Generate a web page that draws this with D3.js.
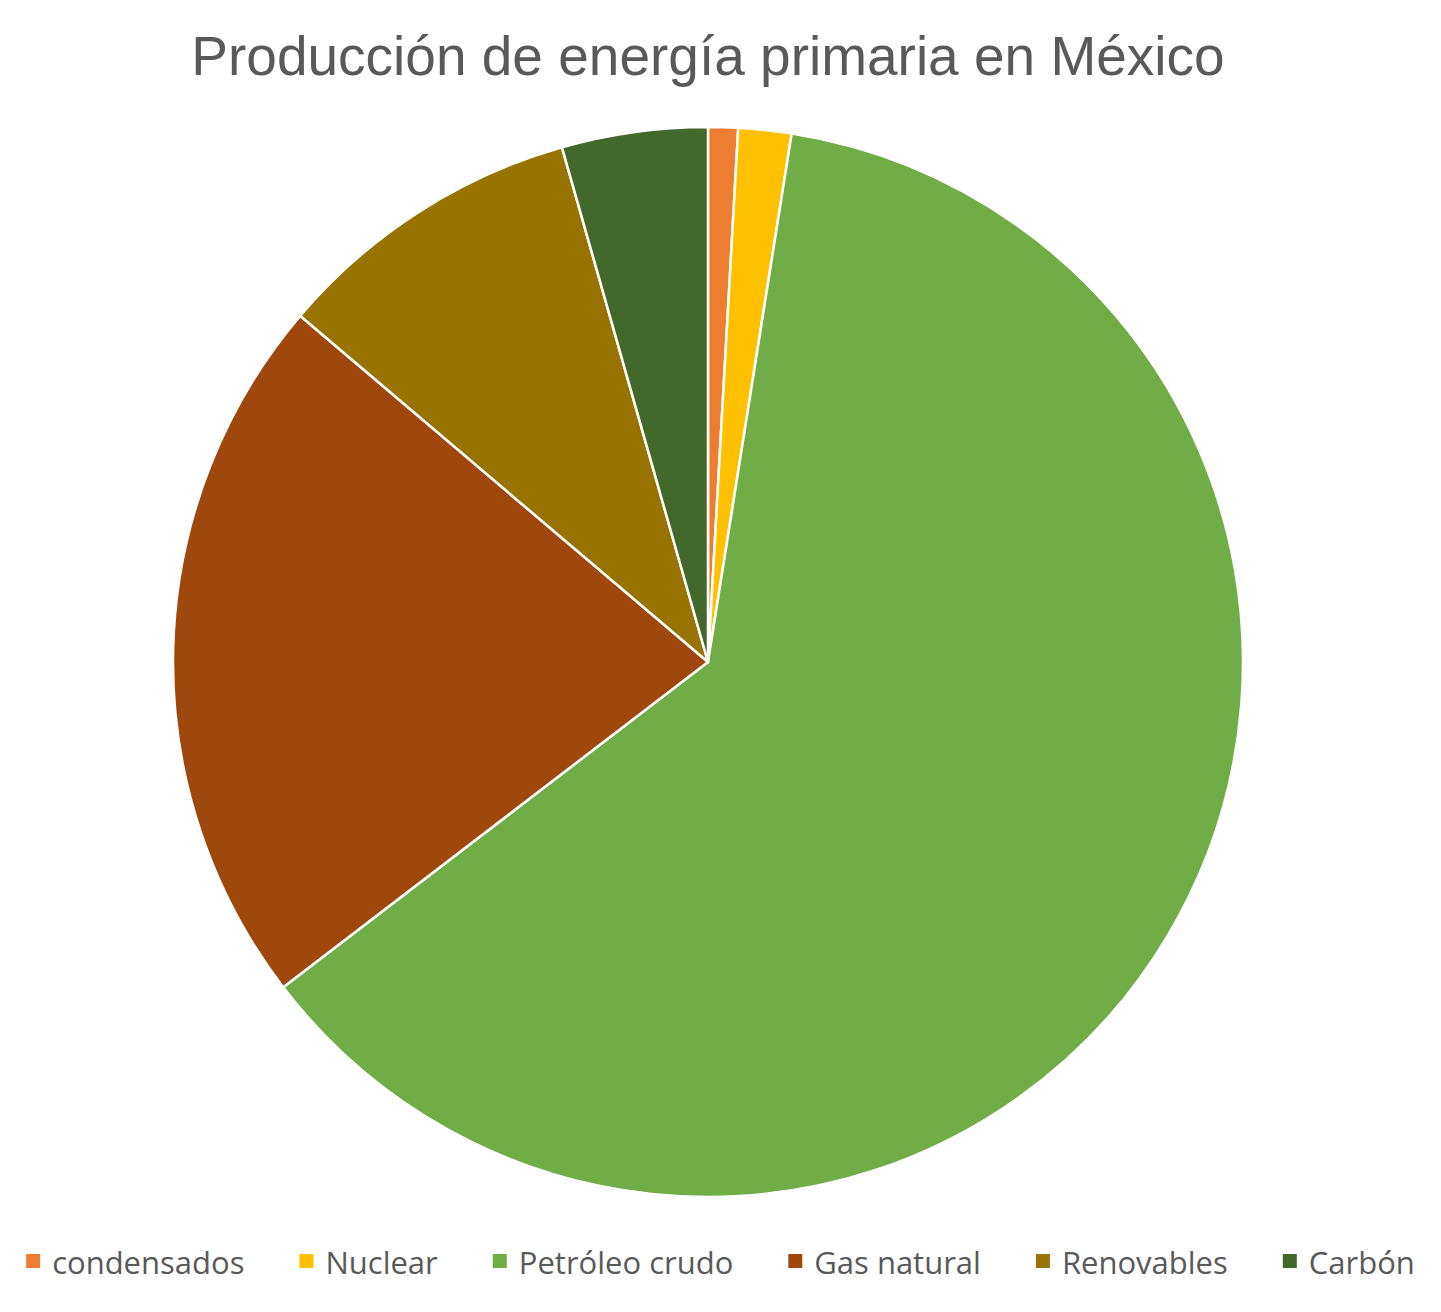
<!DOCTYPE html>
<html><head><meta charset="utf-8">
<script src="https://cdn.jsdelivr.net/npm/d3@7"></script>
<style>body{margin:0;background:#fff;} svg{display:block;}</style>
</head><body>
<svg id="chart" width="1441" height="1312"></svg>
<script>
const categories = ["condensados", "Nuclear", "Petróleo crudo", "Gas natural", "Renovables", "Carbón"];
const values = [0.9, 1.6, 62.1, 21.6, 9.4, 4.4];
const colors = ["#ED7D31", "#FFC000", "#70AD47", "#9E480E", "#997300", "#43682B"];
const title = "Producción de energía primaria en México";

const svg = d3.select("#chart");
const W = 1441, H = 1312;
const cx = 708, cy = 662, r = 535;

svg.append("text").attr("x", 708).attr("y", 75).attr("text-anchor", "middle")
  .attr("font-family", "'Liberation Sans', Arial, sans-serif").attr("font-size", 55)
  .attr("fill", "#595959").text(title);

const data = categories.map((c, i) => ({cat: c, value: values[i], color: colors[i]}));
const pie = d3.pie().value(d => d.value).sort(null);
const arc = d3.arc().innerRadius(0).outerRadius(r);
const g = svg.append("g").attr("transform", `translate(${cx},${cy})`);
g.selectAll("path").data(pie(data)).join("path")
  .attr("d", arc).attr("fill", d => d.data.color)
  .attr("stroke", "#fff").attr("stroke-width", 2.5).attr("stroke-linejoin", "round");

// legend
const lg = svg.append("g");
const items = lg.selectAll("g").data(data).join("g");
items.append("rect").attr("width", 14).attr("height", 14).attr("y", -20).attr("fill", d => d.color);
items.append("text").attr("x", 26).attr("y", 0)
  .attr("font-family", "'Open Sans', sans-serif").attr("font-size", 31)
  .attr("fill", "#595959").text(d => d.cat);
let xpos = 0; const gap = 55;
items.each(function() {
  const node = d3.select(this);
  node.attr("transform", `translate(${xpos},0)`);
  xpos += 26 + node.select("text").node().getComputedTextLength() + gap;
});
const total = xpos - gap;
lg.attr("transform", `translate(${(W - total) / 2},${1274})`);
</script>
</body></html>
